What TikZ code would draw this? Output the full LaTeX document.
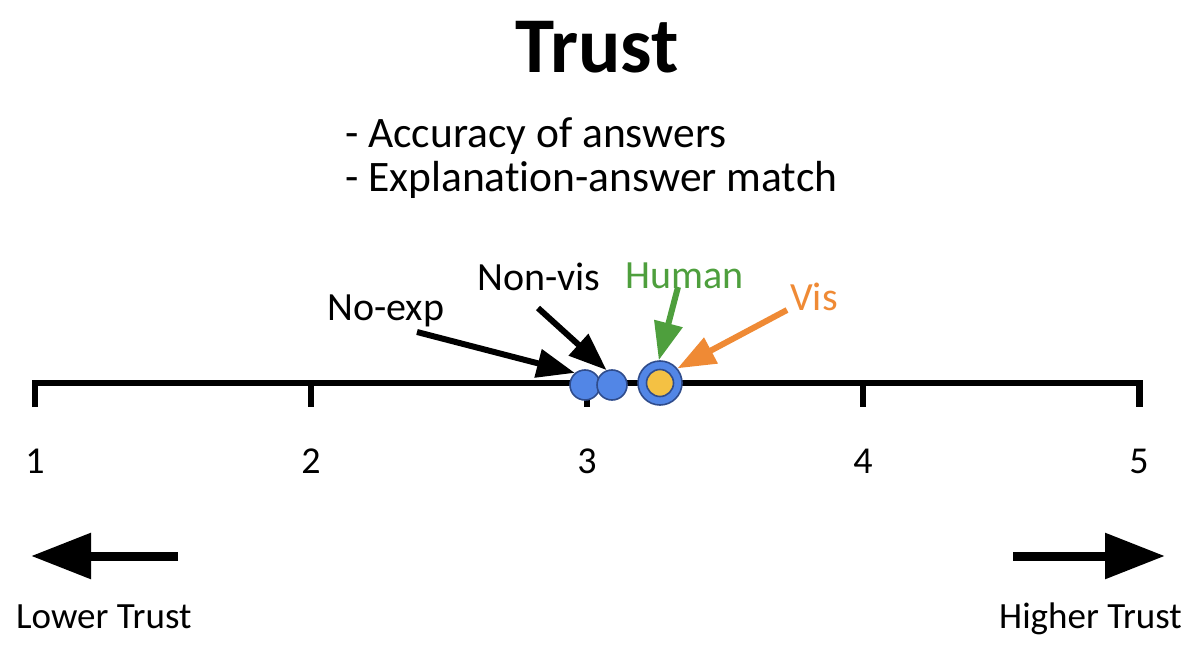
\documentclass[tikz,border=0pt]{standalone}
\usepackage{fontspec}
\setmainfont{Carlito}[Ligatures=NoCommon]
\usetikzlibrary{arrows.meta}
\definecolor{dotblue}{HTML}{5286E6}
\definecolor{dotrim}{HTML}{2F4C8C}
\definecolor{dotyellow}{HTML}{F4C143}
\definecolor{humangreen}{HTML}{4E9F3D}
\definecolor{visorange}{HTML}{EF8A35}
\tikzset{
	lbl/.style={inner sep=0pt, font=\fontsize{37bp}{44bp}\selectfont},
	ptrlbl/.style={inner sep=0pt, anchor=base west, font=\fontsize{40bp}{46bp}\selectfont},
	num/.style={inner sep=0pt, anchor=base, font=\fontsize{38bp}{44bp}\selectfont},
	dot/.style={circle, draw=dotrim, line width=1.6bp, fill=dotblue, inner sep=0pt, minimum size=30bp},
	pointer/.style={line width=6bp, -{Triangle[length=38bp, width=28bp]}},
	bigarrow/.style={line width=9bp, -{Triangle[length=60bp, width=44bp]}}
}

\begin{document}
\begin{tikzpicture}[x=1bp, y=-1bp]
		%%%%% START %%%%%
		\useasboundingbox (0, 0) rectangle (1201, 662);
		
		\node[inner sep=0pt, anchor=base, font=\fontsize{79bp}{84bp}\selectfont\bfseries] (title) at (597, 73) {Trust};
		\node[lbl, anchor=base west, font=\fontsize{43.5bp}{52bp}\selectfont] (acc) at (345, 148) {- Accuracy of answers};
		\node[lbl, anchor=base west, font=\fontsize{43.5bp}{52bp}\selectfont] (expl) at (345, 192) {- Explanation-answer match};
		
		% axis with ticks
		\draw[line width=6bp] (35, 407) -- (35, 383) -- (1140, 383) -- (1140, 407);
		\foreach \v [count=\i from 0] in {1,...,5} {
			\draw[line width=6bp] (35+276*\i, 383) -- (35+276*\i, 407);
			\node[num] (n\v) at (35+276*\i, 473) {\v};
		}
		
		% dots
		\node[dot] (noexp) at (585, 385) {};
		\node[dot] (nonvis) at (612, 385) {};
		\node[dot, minimum size=44bp] (human) at (660, 383) {};
		\node[dot, fill=dotyellow, minimum size=27bp] (vis) at (660, 383) {};
		
		% labels
		\node[ptrlbl] (noexplbl) at (327, 320) {No-exp};
		\node[ptrlbl] (nonvislbl) at (477, 290) {Non-vis};
		\node[ptrlbl, text=humangreen] (humanlbl) at (625, 288) {Human};
		\node[ptrlbl, text=visorange] (vislbl) at (790, 310) {Vis};
		
		\coordinate (noexptail) at (417, 332);
		\coordinate (nonvistail) at (538, 308);
		\coordinate (humantail) at (678, 287);
		\coordinate (vistail) at (787, 310);
		
		\draw[pointer] (noexptail) -- (noexp.130);
		\draw[pointer] (nonvistail) -- (nonvis.110);
		\draw[pointer, humangreen] (humantail) -- (human.93);
		\draw[pointer, visorange] (vistail) -- (human.40);
		
		% lower / higher
		\coordinate (lowtail) at (178, 556);
		\coordinate (lowtip) at (31, 556);
		\coordinate (hightail) at (1013, 556);
		\coordinate (hightip) at (1165, 556);
		\draw[bigarrow] (lowtail) -- (lowtip);
		\draw[bigarrow] (hightail) -- (hightip);
		\node[lbl, anchor=base west] (lower) at (16, 628) {Lower Trust};
		\node[lbl, anchor=base east] (higher) at (1182, 628) {Higher Trust};
		%%%%% END %%%%%
\end{tikzpicture}
\end{document}
